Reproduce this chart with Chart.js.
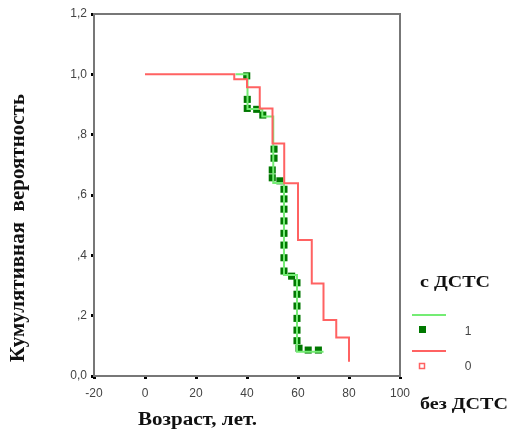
<!DOCTYPE html>
<html>
<head>
<meta charset="utf-8">
<script src="https://cdn.jsdelivr.net/npm/chart.js@4"></script>
<style>
  body { margin: 0; background: #fff; }
  #wrap { width: 511px; height: 435px; }
</style>
</head>
<body>
<div id="wrap"><canvas id="myChart" width="511" height="435"></canvas></div>
<script>
// без ДСТС (group 0) - step curve
const redAge  = [0, 35, 40, 45, 50, 54.6, 60, 65.4, 70, 75, 80];
const redProb = [1.0, 0.984, 0.957, 0.887, 0.771, 0.639, 0.451, 0.307, 0.186, 0.128, 0.047];

// с ДСТС (group 1) - step curve
const greenAge  = [35.5, 40.2, 46, 50.3, 54.5, 59.6, 70];
const greenProb = [1.0, 0.885, 0.86, 0.64, 0.335, 0.08, 0.08];

// с ДСТС (group 1) - square marks
const markAge  = [39.9, 40.1, 40.1, 43.8, 46.2, 50.6, 50.6, 49.9, 49.9, 52.9,
                  54.5, 54.5, 54.5, 54.5, 54.5, 54.5, 54.5, 54.5, 57.5, 59.6,
                  59.6, 59.6, 59.6, 59.6, 59.6, 60.4, 64.0, 68.0];
const markProb = [0.995, 0.917, 0.887, 0.884, 0.865, 0.752, 0.722, 0.683, 0.657, 0.647,
                  0.619, 0.587, 0.553, 0.514, 0.473, 0.434, 0.392, 0.348, 0.331, 0.309,
                  0.271, 0.232, 0.191, 0.152, 0.117, 0.092, 0.086, 0.086];

const xTickLabels = ['-20', '0', '20', '40', '60', '80', '100'];
const yTickLabels = ['0,0', ',2', ',4', ',6', ',8', '1,0', '1,2'];

const RED = '#ff6262';
const GREEN_LINE = '#74ec74';
const GREEN_MARK = '#007800';

function pts(xs, ys) {
    return xs.map((x, i) => ({x: x, y: ys[i]}));
}

// text squeezed/stretched to a given width, left edge at x
function fitText(ctx, text, x, y, width) {
    const w = ctx.measureText(text).width;
    ctx.save();
    ctx.translate(x, y);
    ctx.scale(width / w, 1);
    ctx.textAlign = 'left';
    ctx.fillText(text, 0, 0);
    ctx.restore();
}

const extras = {
    id: 'extras',
    afterDraw(chart) {
        const ctx = chart.ctx;
        const a = chart.chartArea;
        ctx.save();
        // frame top + right
        ctx.strokeStyle = '#777';
        ctx.lineWidth = 2;
        ctx.beginPath();
        ctx.moveTo(a.left, a.top);
        ctx.lineTo(a.right, a.top);
        ctx.lineTo(a.right, a.bottom);
        ctx.stroke();

        ctx.fillStyle = '#111';
        ctx.textBaseline = 'alphabetic';
        // x title
        ctx.font = 'bold 18px "Liberation Serif"';
        fitText(ctx, 'Возраст, лет.', 138, 425, 119);

        // y title (rotated)
        ctx.save();
        ctx.translate(24, 362);
        ctx.rotate(-Math.PI / 2);
        ctx.font = 'bold 21px "Liberation Serif"';
        fitText(ctx, 'Кумулятивная  вероятность', 0, 0, 268);
        ctx.restore();

        // legend
        ctx.font = 'bold 17px "Liberation Serif"';
        fitText(ctx, 'с ДСТС', 420, 287, 70);
        fitText(ctx, 'без ДСТС', 420, 409, 88);

        ctx.lineWidth = 2;
        ctx.strokeStyle = GREEN_LINE;
        ctx.beginPath(); ctx.moveTo(412, 315); ctx.lineTo(446, 315); ctx.stroke();
        ctx.fillStyle = GREEN_MARK;
        ctx.fillRect(419, 326, 7, 7);

        ctx.strokeStyle = RED;
        ctx.beginPath(); ctx.moveTo(412, 351); ctx.lineTo(446, 351); ctx.stroke();
        ctx.lineWidth = 1.5;
        ctx.strokeRect(419.5, 363.5, 5, 5);

        ctx.fillStyle = '#444';
        ctx.font = '12px "Liberation Sans"';
        ctx.textAlign = 'center';
        ctx.textBaseline = 'middle';
        ctx.fillText('1', 468, 332);
        ctx.fillText('0', 468, 367);
        ctx.restore();
    }
};

const ctx = document.getElementById('myChart').getContext('2d');
const myChart = new Chart(ctx, {
    type: 'scatter',
    data: {
        datasets: [
            {
                type: 'line',
                label: '0',
                data: pts(redAge, redProb),
                stepped: true,
                borderColor: RED,
                borderWidth: 2,
                pointRadius: 0,
                fill: false
            },
            {
                type: 'line',
                label: '1',
                data: pts(greenAge, greenProb),
                stepped: true,
                borderColor: GREEN_LINE,
                borderWidth: 2,
                pointRadius: 0,
                fill: false
            },
            {
                label: '1 marks',
                data: pts(markAge, markProb),
                pointStyle: 'rect',
                pointRadius: 5,
                backgroundColor: GREEN_MARK,
                borderColor: GREEN_MARK,
                borderWidth: 0
            }
        ]
    },
    options: {
        responsive: false,
        animation: false,
        devicePixelRatio: 1,
        layout: { padding: { top: 14, right: 111, left: 0, bottom: 0 } },
        plugins: { legend: { display: false }, tooltip: { enabled: false } },
        scales: {
            x: {
                type: 'linear',
                min: -20, max: 100,
                afterFit: s => { s.height = 59; },
                border: { display: true, color: '#777', width: 2 },
                grid: { drawOnChartArea: false, drawTicks: true, tickLength: 3, tickWidth: 3, tickColor: '#000' },
                ticks: {
                    stepSize: 20, padding: 7, color: '#444',
                    font: { family: 'Liberation Sans', size: 12 },
                    callback: (v, i) => xTickLabels[i]
                }
            },
            y: {
                min: 0, max: 1.2,
                afterFit: s => { s.width = 94; },
                border: { display: true, color: '#777', width: 2 },
                grid: { drawOnChartArea: false, drawTicks: true, tickLength: 3, tickWidth: 3, tickColor: '#000' },
                ticks: {
                    stepSize: 0.2, padding: 4, color: '#444',
                    font: { family: 'Liberation Sans', size: 12 },
                    callback: (v, i) => yTickLabels[i]
                }
            }
        }
    },
    plugins: [extras]
});
</script>
</body>
</html>
